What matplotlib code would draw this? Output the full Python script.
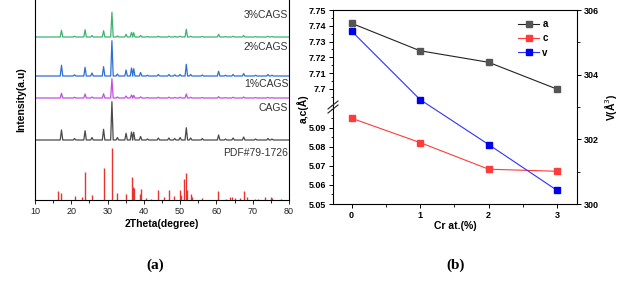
import numpy as np
import matplotlib
matplotlib.use("Agg")
import matplotlib.pyplot as plt
from matplotlib.lines import Line2D
from matplotlib.ticker import MultipleLocator, FixedLocator

plt.rcParams['font.family'] = ['Liberation Sans', 'DejaVu Sans']

# ---------------- data: panel (a) XRD ----------------
peak_pos = [17.3, 20.9, 23.8, 25.7, 28.9, 31.2, 32.7, 35.1, 36.6, 37.2, 39.1, 41.0,
            44.0, 46.9, 48.5, 50.0, 51.7, 52.9, 56.1, 60.6, 62.5, 64.6, 67.5, 70.8, 74.2, 75.3]
h_cags = [10, 1.5, 9.3, 2.5, 10.7, 38.3, 2.5, 6.7, 8, 7.7, 3.5, 1, 2, 2, 1.5, 2.5,
          12.3, 2, 1.5, 5, 1, 2, 3, 1, 1.5, 1]
h_1 = [4.7, 0.8, 4, 1, 4.3, 19.3, 1, 2, 3, 2.7, 1.2, 0.5, 0.8, 0.8, 0.6, 0.8,
       4, 0.8, 0.5, 1.3, 0.4, 0.8, 1, 0.4, 0.6, 0.4]
h_2 = [10.7, 1.2, 8.7, 3, 9.3, 35.3, 2, 6, 8, 7.3, 3.5, 0.8, 1.5, 1.5, 1.2, 1.5,
       11.7, 1.5, 1, 4.7, 0.8, 1.5, 2.5, 0.8, 1.5, 0.8]
h_3 = [6.7, 0.8, 7.3, 1.5, 6.3, 24.7, 1, 2.7, 4.7, 4.3, 1.5, 0.5, 0.8, 0.8, 0.6, 0.8,
       7.7, 0.8, 0.6, 2.7, 0.5, 0.8, 1.5, 0.5, 0.8, 0.5]
offsets = [60, 102, 124, 163]
sample_labels = ['CAGS', '1%CAGS', '2%CAGS', '3%CAGS']
sample_colors = ['#4a4a4a', '#c24fe0', '#2b6fd8', '#3cb371']
label_y = [92, 116, 153, 185]

pdf_pos = [16.3, 17.3, 20.9, 22.9, 23.8, 25.6, 28.9, 31.2, 32.6, 35.0, 36.7, 37.0, 37.3,
           38.8, 39.1, 40.6, 42.0, 43.9, 45.6, 46.9, 48.4, 49.9, 50.3, 51.0, 51.6, 52.0,
           52.9, 53.3, 56.0, 60.4, 62.5, 63.7, 64.3, 65.0, 66.5, 67.5, 68.3, 70.5, 71.5,
           73.5, 75.0, 75.4, 77.8]
pdf_h = [9.3, 7.3, 4, 2.7, 28, 4.7, 32.3, 51.7, 7.3, 6, 23.3, 12.7, 12.3,
         6, 11, 2, 0.7, 10, 2.7, 10, 4, 10, 5.3, 21, 27, 10,
         6, 3.3, 2, 8.7, 1.3, 2.7, 3.3, 2, 2, 8.7, 3.3, 1.3, 1.3,
         2.7, 3.3, 2, 0.7]
pdf_label = 'PDF#79-1726'
pdf_label_y = 47

# ---------------- data: panel (b) lattice ----------------
cr = [0, 1, 2, 3]
a_vals = [7.7416, 7.7242, 7.7169, 7.6999]
c_vals = [5.0951, 5.0823, 5.0683, 5.0672]
v_vals = [305.35, 303.23, 301.84, 300.42]
top_ticks = [7.70, 7.71, 7.72, 7.73, 7.74, 7.75]
top_labels = ['7.7', '7.71', '7.72', '7.73', '7.74', '7.75']
bot_ticks = [5.05, 5.06, 5.07, 5.08, 5.09]
bot_labels = ['5.05', '5.06', '5.07', '5.08', '5.09']
v_ticks = [300, 302, 304, 306]

W, H = 626, 286
fig = plt.figure(figsize=(W / 100, H / 100), dpi=100)


def box(l, t, r, b):
    return [l / W, 1 - b / H, (r - l) / W, (b - t) / H]


# ---------------- panel (a) ----------------
axa = fig.add_axes(box(35, 0, 289, 200))
w = 0.35
for heights, off, col, lab, ly in zip([h_cags, h_1, h_2, h_3], offsets, sample_colors,
                                      sample_labels, label_y):
    xs, ys = [10.0], [off]
    for p, h in zip(peak_pos, heights):
        xs += [p - w, p, p + w]
        ys += [off, off + h, off]
    xs.append(80.0)
    ys.append(off)
    axa.plot(xs, ys, color=col, lw=0.9)
    axa.text(79.8, ly, lab, ha='right', va='center', fontsize=7.5, color='#333333')
axa.vlines(pdf_pos, 0, pdf_h, color='#e8332f', lw=1.0)
axa.text(79.8, pdf_label_y, pdf_label, ha='right', va='center', fontsize=7.5, color='#333333')
axa.set_xlim(10, 80)
axa.set_ylim(0, 200)
axa.set_yticks([])
axa.xaxis.set_major_locator(MultipleLocator(10))
axa.xaxis.set_minor_locator(MultipleLocator(5))
axa.tick_params(axis='x', which='major', direction='out', length=3, width=0.7,
                labelsize=6.5, pad=2, colors='#222222')
axa.tick_params(axis='x', which='minor', direction='out', length=2, width=0.6)
axa.spines['top'].set_visible(False)
for s in axa.spines.values():
    s.set_linewidth(0.8)
axa.set_xlabel('2Theta(degree)', fontsize=7.5, fontweight='bold', labelpad=2)
axa.set_ylabel('Intensity(a.u)', fontsize=7.5, fontweight='bold', labelpad=6)

# ---------------- panel (b) ----------------
L, R, T, B, M = 333, 577, 10, 204, 107
ax_top = fig.add_axes(box(L, T, R, M))
ax_bot = fig.add_axes(box(L, M, R, B))
ax_v = fig.add_axes(box(L, T, R, B))
ax_v.patch.set_alpha(0)

xl = (-0.27, 3.29)
for ax in (ax_top, ax_bot, ax_v):
    ax.set_xlim(*xl)
    for s in ax.spines.values():
        s.set_linewidth(0.8)

ax_top.plot(cr, a_vals, color='#222222', lw=0.8, marker='s', ms=4.5,
            mfc='#555555', mec='#555555')
ax_top.set_ylim(7.6886, 7.75)
ax_top.yaxis.set_major_locator(FixedLocator(top_ticks))
ax_top.set_yticklabels(top_labels)
ax_top.yaxis.set_minor_locator(MultipleLocator(0.005))
ax_top.set_xticks([])
ax_top.spines['bottom'].set_visible(False)
ax_top.spines['right'].set_visible(False)

ax_bot.plot(cr, c_vals, color='#ff3b3b', lw=0.8, marker='s', ms=4.5,
            mfc='#ff3b3b', mec='#ff3b3b')
ax_bot.set_ylim(5.05, 5.101)
ax_bot.yaxis.set_major_locator(FixedLocator(bot_ticks))
ax_bot.set_yticklabels(bot_labels)
ax_bot.yaxis.set_minor_locator(MultipleLocator(0.005))
ax_bot.spines['top'].set_visible(False)
ax_bot.spines['right'].set_visible(False)
ax_bot.set_xticks(cr)
ax_bot.xaxis.set_minor_locator(MultipleLocator(0.5))
ax_bot.set_xlabel('Cr at.(%)', fontsize=7.5, fontweight='bold', labelpad=1)

for ax in (ax_top, ax_bot):
    ax.tick_params(which='major', direction='out', length=3, width=0.7, labelsize=6.5, pad=2)
    ax.tick_params(which='minor', direction='out', length=1.8, width=0.6)
    for lab in ax.get_yticklabels() + ax.get_xticklabels():
        lab.set_fontweight('bold')

ax_v.plot(cr, v_vals, color='#3030ff', lw=0.8, marker='s', ms=4.5,
          mfc='#0000ee', mec='#0000ee')
ax_v.set_ylim(300, 306)
ax_v.yaxis.tick_right()
ax_v.yaxis.set_label_position('right')
ax_v.set_yticks(v_ticks)
ax_v.yaxis.set_minor_locator(MultipleLocator(1))
ax_v.set_xticks([])
for k in ('left', 'top', 'bottom'):
    ax_v.spines[k].set_visible(False)
ax_v.tick_params(axis='y', which='major', direction='out', length=3, width=0.7,
                 labelsize=6.5, pad=2)
ax_v.tick_params(axis='y', which='minor', direction='out', length=1.8, width=0.6)
for lab in ax_v.get_yticklabels():
    lab.set_fontweight('bold')
ax_v.set_ylabel('V(Å$^3$)', fontsize=7.5, fontweight='bold', labelpad=3)

# axis break marks
bw, bh = R - L, B - T
for dy in (-2, 2):
    ax_v.plot([-5 / bw, 5 / bw], [0.5 + (dy - 4) / bh, 0.5 + (dy + 4) / bh],
              transform=ax_v.transAxes, color='#222222', lw=0.8, clip_on=False)

fig.text(303 / W, 1 - 109 / H, 'a,c(Å)', rotation=90, ha='center', va='center',
         fontsize=7.5, fontweight='bold')

handles = [Line2D([], [], color='#222222', lw=0.8, marker='s', ms=4.5, mfc='#555555', mec='#555555'),
           Line2D([], [], color='#ff3b3b', lw=0.8, marker='s', ms=4.5, mfc='#ff3b3b', mec='#ff3b3b'),
           Line2D([], [], color='#3030ff', lw=0.8, marker='s', ms=4.5, mfc='#0000ee', mec='#0000ee')]
leg = fig.legend(handles, ['a', 'c', 'v'], loc='upper left',
                 bbox_to_anchor=(518 / W, 1 - 19 / H), frameon=False,
                 prop={'size': 7, 'weight': 'bold'}, handlelength=2.2,
                 handletextpad=0.3, labelspacing=0.45, borderpad=0, borderaxespad=0)

fig.text(155 / W, 1 - 265 / H, '(a)', ha='center', va='center', fontsize=11,
         fontweight='bold', family=['Liberation Serif', 'DejaVu Serif'])
fig.text(456 / W, 1 - 265 / H, '(b)', ha='center', va='center', fontsize=11,
         fontweight='bold', family=['Liberation Serif', 'DejaVu Serif'])

fig.savefig('out.png', dpi=100)
